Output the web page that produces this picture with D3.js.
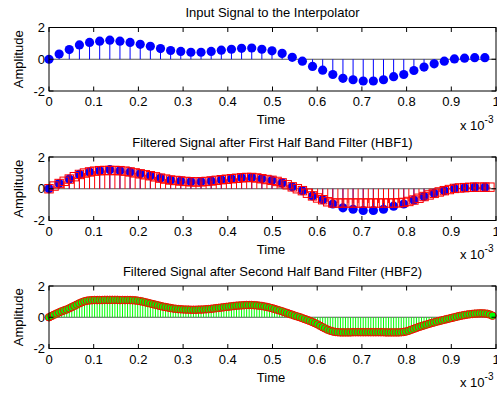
<!DOCTYPE html>
<html>
  <head>
    <title>Interpolator stems</title>
    <style>
      body { margin: 0; padding: 0; overflow: hidden; background: #fff; }
      svg { display: block; }
      text { font-family: "Liberation Sans", Arial, Helvetica, sans-serif; fill: #000; }
    </style>
    <script src="https://unpkg.com/d3@7.8.5/dist/d3.min.js"></script>
  </head>
  <body>
    <svg width="497" height="396"></svg>
    <script>
      // sample spacing in ms (x 10^-3 s)
      const dtIn = 0.0226757;
      const dtHbf1 = dtIn / 2;
      const dtHbf2 = dtIn / 4;

      // input samples (44)
      const inputSignal = [
        0.00, 0.33, 0.61, 0.90, 1.06, 1.14, 1.20, 1.14, 1.06, 0.94,
        0.82, 0.67, 0.55, 0.49, 0.44, 0.44, 0.49, 0.57, 0.63, 0.69,
        0.71, 0.63, 0.53, 0.37, 0.12, -0.12, -0.45, -0.69, -0.96, -1.20,
        -1.29, -1.37, -1.37, -1.29, -1.10, -0.96, -0.71, -0.49, -0.29, -0.12,
        0.02, 0.07, 0.10, 0.10
      ];

      // after first half band filter (88)
      const hbf1Signal = [
        0.00, 0.17, 0.33, 0.47, 0.61, 0.76, 0.90, 0.99, 1.06, 1.11,
        1.14, 1.15, 1.15, 1.15, 1.14, 1.11, 1.06, 1.00, 0.94, 0.88,
        0.82, 0.75, 0.67, 0.61, 0.55, 0.52, 0.49, 0.46, 0.44, 0.43,
        0.44, 0.46, 0.49, 0.53, 0.57, 0.60, 0.63, 0.66, 0.69, 0.71,
        0.71, 0.68, 0.63, 0.58, 0.53, 0.46, 0.37, 0.25, 0.12, 0.00,
        -0.12, -0.28, -0.45, -0.58, -0.69, -0.82, -0.90, -0.90, -0.90, -0.90,
        -0.90, -0.90, -0.90, -0.90, -0.90, -0.90, -0.90, -0.90, -0.90, -0.89,
        -0.86, -0.80, -0.71, -0.60, -0.49, -0.39, -0.29, -0.20, -0.12, -0.05,
        0.02, 0.05, 0.07, 0.09, 0.10, 0.10, 0.10, 0.10
      ];

      // after second half band filter (176)
      const hbf2Signal = [
        0.00, 0.08, 0.16, 0.24, 0.31, 0.38, 0.44, 0.50, 0.57, 0.65,
        0.73, 0.81, 0.89, 0.96, 1.02, 1.06, 1.08, 1.09, 1.10, 1.10,
        1.10, 1.10, 1.11, 1.11, 1.11, 1.11, 1.11, 1.11, 1.10, 1.10,
        1.10, 1.10, 1.10, 1.09, 1.08, 1.06, 1.03, 1.00, 0.96, 0.92,
        0.88, 0.84, 0.80, 0.76, 0.72, 0.68, 0.65, 0.62, 0.59, 0.56,
        0.54, 0.52, 0.51, 0.50, 0.49, 0.49, 0.48, 0.48, 0.48, 0.49,
        0.49, 0.50, 0.51, 0.52, 0.54, 0.56, 0.58, 0.60, 0.62, 0.64,
        0.66, 0.68, 0.70, 0.72, 0.74, 0.75, 0.76, 0.77, 0.78, 0.78,
        0.78, 0.77, 0.76, 0.74, 0.72, 0.69, 0.66, 0.62, 0.58, 0.53,
        0.48, 0.43, 0.38, 0.32, 0.27, 0.21, 0.16, 0.10, 0.05, 0.00,
        -0.06, -0.12, -0.18, -0.24, -0.31, -0.38, -0.46, -0.55, -0.64, -0.72,
        -0.80, -0.86, -0.91, -0.94, -0.96, -0.97, -0.97, -0.97, -0.97, -0.97,
        -0.96, -0.96, -0.96, -0.96, -0.96, -0.96, -0.96, -0.96, -0.96, -0.96,
        -0.96, -0.96, -0.96, -0.97, -0.97, -0.97, -0.97, -0.97, -0.97, -0.96,
        -0.94, -0.91, -0.86, -0.80, -0.74, -0.68, -0.62, -0.57, -0.52, -0.47,
        -0.42, -0.37, -0.33, -0.28, -0.24, -0.20, -0.16, -0.12, -0.08, -0.04,
        0.00, 0.04, 0.08, 0.11, 0.14, 0.17, 0.19, 0.21, 0.23, 0.24,
        0.25, 0.25, 0.24, 0.22, 0.17, 0.10
      ];

      const xTicks = [0, 0.1, 0.2, 0.3, 0.4, 0.5, 0.6, 0.7, 0.8, 0.9, 1];
      const yTicks = [-2, 0, 2];

      const panels = [
        {title: 'Input Signal to the Interpolator', top: 27.5, bottom: 91},
        {title: 'Filtered Signal after First Half Band Filter (HBF1)', top: 157, bottom: 220.5},
        {title: 'Filtered Signal after Second Half Band Filter (HBF2)', top: 286, bottom: 348.5}
      ];

      const svg = d3.select('svg');
      svg.append('rect').attr('width', 497).attr('height', 396).attr('fill', '#fff');

      const x = d3.scaleLinear().domain([0, 1]).range([49, 496]);
      const tickLen = 4.5;

      const toPoints = (arr, dt) => arr.map((v, i) => ({t: i * dt, v: v}));

      function drawStems(g, y, pts, color) {
        g.append('g').selectAll('line').data(pts).enter().append('line')
          .attr('x1', d => x(d.t)).attr('x2', d => x(d.t))
          .attr('y1', y(0)).attr('y2', d => y(d.v))
          .attr('stroke', color).attr('stroke-width', 1);
      }

      panels.forEach((p, idx) => {
        const y = d3.scaleLinear().domain([-2, 2]).range([p.bottom, p.top]);
        const g = svg.append('g');

        // stem baseline
        g.append('line')
          .attr('x1', x(0)).attr('x2', x(1))
          .attr('y1', y(0)).attr('y2', y(0))
          .attr('stroke', '#555').attr('stroke-width', 1);

        if (idx === 0) {
          const pts = toPoints(inputSignal, dtIn);
          drawStems(g, y, pts, '#0000ff');
          g.append('g').selectAll('circle').data(pts).enter().append('circle')
            .attr('cx', d => x(d.t)).attr('cy', d => y(d.v)).attr('r', 4.6)
            .attr('fill', '#0000ff');
        } else if (idx === 1) {
          const pIn = toPoints(inputSignal, dtIn);
          const pH = toPoints(hbf1Signal, dtHbf1);
          drawStems(g, y, pIn, '#0000ff');
          g.append('g').selectAll('circle').data(pIn).enter().append('circle')
            .attr('cx', d => x(d.t)).attr('cy', d => y(d.v)).attr('r', 4.6)
            .attr('fill', '#0000ff');
          drawStems(g, y, pH, '#ff0000');
          g.append('g').selectAll('rect').data(pH).enter().append('rect')
            .attr('x', d => x(d.t) - 4.2).attr('y', d => y(d.v) - 4.2)
            .attr('width', 8.4).attr('height', 8.4)
            .attr('fill', 'none').attr('stroke', '#ff0000').attr('stroke-width', 1);
        } else {
          const pH = toPoints(hbf2Signal, dtHbf2);
          drawStems(g, y, pH, '#00ff00');
          g.append('g').selectAll('circle').data(pH).enter().append('circle')
            .attr('cx', d => x(d.t)).attr('cy', d => y(d.v)).attr('r', 3.8)
            .attr('fill', '#00ff00').attr('stroke', '#ff0000').attr('stroke-width', 1);
        }

        // frame
        g.append('rect')
          .attr('x', x(0)).attr('y', p.top)
          .attr('width', x(1) - x(0)).attr('height', p.bottom - p.top)
          .attr('fill', 'none').attr('stroke', '#000').attr('stroke-width', 1);

        // ticks inside on all sides
        const tk = g.append('g').attr('stroke', '#000').attr('stroke-width', 1);
        xTicks.forEach(t => {
          tk.append('line').attr('x1', x(t)).attr('x2', x(t))
            .attr('y1', p.bottom).attr('y2', p.bottom - tickLen);
          tk.append('line').attr('x1', x(t)).attr('x2', x(t))
            .attr('y1', p.top).attr('y2', p.top + tickLen);
        });
        yTicks.forEach(v => {
          tk.append('line').attr('x1', x(0)).attr('x2', x(0) + tickLen)
            .attr('y1', y(v)).attr('y2', y(v));
          tk.append('line').attr('x1', x(1)).attr('x2', x(1) - tickLen)
            .attr('y1', y(v)).attr('y2', y(v));
        });

        g.append('g').selectAll('text').data(xTicks).enter().append('text')
          .attr('x', d => x(d)).attr('y', p.bottom + 15)
          .attr('text-anchor', 'middle').attr('font-size', 13)
          .text(d => d3.format('~g')(d));

        g.append('g').selectAll('text').data(yTicks).enter().append('text')
          .attr('x', 45).attr('y', d => y(d) + 4.5)
          .attr('text-anchor', 'end').attr('font-size', 13)
          .text(d => d);

        g.append('text')
          .attr('x', (x(0) + x(1)) / 2).attr('y', p.top - 10.5)
          .attr('text-anchor', 'middle').attr('font-size', 13)
          .text(p.title);

        g.append('text')
          .attr('x', 271).attr('y', p.bottom + 33)
          .attr('text-anchor', 'middle').attr('font-size', 13)
          .text('Time');

        g.append('text')
          .attr('transform', `translate(23, ${(p.top + p.bottom) / 2}) rotate(-90)`)
          .attr('text-anchor', 'middle').attr('font-size', 13)
          .text('Amplitude');

        const ex = g.append('text')
          .attr('x', 460).attr('y', p.bottom + 38.5).attr('font-size', 13);
        ex.append('tspan').text('x 10');
        ex.append('tspan').attr('dy', -7).attr('font-size', 10).text('-3');
      });
    </script>
  </body>
</html>
